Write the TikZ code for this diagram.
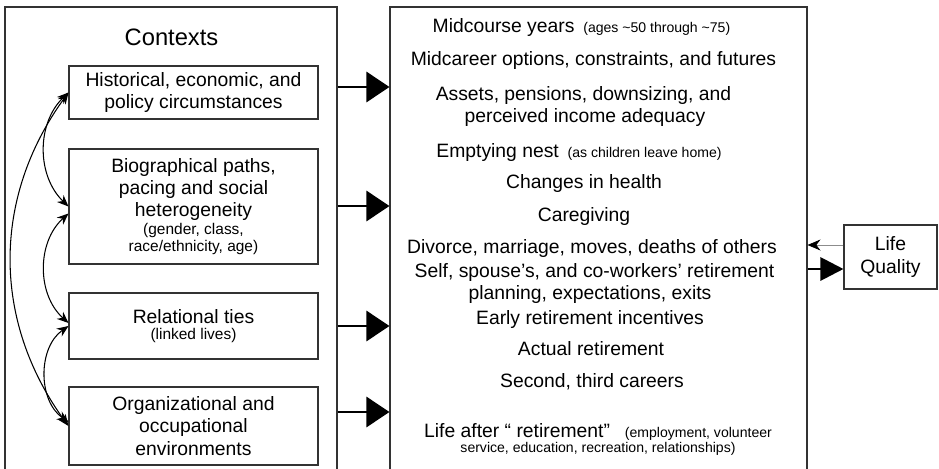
\documentclass[tikz,border=0pt]{standalone}
\usepackage{fontspec}
\setmainfont{Liberation Sans}
\usetikzlibrary{arrows.meta,positioning}

\newcommand{\bigtxt}{\fontsize{11}{12.6}\selectfont}
\newcommand{\notetxt}{\fontsize{8.8}{10}\selectfont}
\newcommand{\smalltxt}{\fontsize{8}{9.5}\selectfont}

\begin{document}
\begin{tikzpicture}[x=0.2mm,y=-0.2mm,
  frame/.style={draw=black!80,line width=0.6pt,inner sep=0pt},
  ctxbox/.style={frame,minimum width=49.8mm,align=center,font=\bigtxt},
  item/.style={anchor=base,inner sep=0pt,font=\bigtxt},
  link/.style={line width=0.6pt,{Stealth[length=2.3mm,width=1.9mm]}-{Stealth[length=2.3mm,width=1.9mm]}},
  fat/.style={line width=1.7pt,-{Triangle[length=4.6mm,width=6mm]}}]
\useasboundingbox (0,0) rectangle (939,468);

\node[frame,minimum width=66.4mm,minimum height=94.4mm] (ctx) at (171,243) {};
\node[frame,minimum width=83.4mm,minimum height=94.4mm] (mid) at (598.5,243) {};
\node[frame,minimum width=18.6mm,minimum height=12.8mm,align=center,font=\bigtxt] (lq) at (890.5,257) {Life\\Quality};

\node[anchor=base,font=\fontsize{13.5}{15}\selectfont] (ctxhead) at (171.5,45) {Contexts};
\node[ctxbox,minimum height=10.6mm] (hist) at (193.5,92.5) {Historical, economic, and\\policy circumstances};
\node[ctxbox,minimum height=23mm] (bio) at (193.5,206.5) {Biographical paths,\\pacing and social\\heterogeneity\\[-2.6pt]{\notetxt(gender, class,}\\[-2.6pt]{\notetxt race/ethnicity, age)}};
\node[ctxbox,minimum height=13.2mm] (rel) at (193.5,326) {Relational ties\\[-3.2pt]{\notetxt(linked lives)}};
\node[ctxbox,minimum height=15.6mm] (org) at (193.5,426) {Organizational and\\occupational\\environments};

\node[item] (yrs) at (581.5,32) {Midcourse years\hspace{5pt}{\smalltxt(ages \textasciitilde50 through \textasciitilde75)}};
\node[item] (opts) at (593.5,65) {Midcareer options, constraints, and futures};
\node[item] (assets) at (583.5,100) {Assets, pensions, downsizing, and};
\node[item] (assets2) at (585,122) {perceived income adequacy};
\node[item] (nest) at (579,157) {Emptying nest\hspace{5pt}{\smalltxt(as children leave home)}};
\node[item] (health) at (584,188) {Changes in health};
\node[item] (care) at (584,221) {Caregiving};
\node[item] (divorce) at (592,253) {Divorce, marriage, moves, deaths of others};
\node[item] (plans) at (594.5,277) {Self, spouse’s, and co-workers’ retirement};
\node[item] (plans2) at (590,299) {planning, expectations, exits};
\node[item] (early) at (590,324) {Early retirement incentives};
\node[item] (actual) at (591,355) {Actual retirement};
\node[item] (careers) at (592,387) {Second, third careers};
\node[item] (after) at (598,437) {Life after “ retirement”\hspace{8.5pt}{\smalltxt(employment, volunteer}};
\node[item,font=\smalltxt] (after2) at (598,452) {service, education, recreation, relationships)};

\foreach \y in {87,206,326,412} \draw[fat] (ctx.east |- 0,\y) -- (mid.west |- 0,\y);

\draw[draw=black!45,line width=0.4pt,-{Stealth[length=2.6mm,width=2.2mm,black]}] (lq.west |- 0,245) -- (mid.east |- 0,245);
\draw[line width=1.7pt,-{Triangle[length=4.6mm,width=4.6mm]}] (mid.east |- 0,269) -- (lq.west |- 0,269);

\draw[link] (hist.west) to[bend right=46] (bio.west);
\draw[link] (hist.west) to[bend right=36] (org.west);
\draw[link] ([yshift=-1.4mm]bio.west) to[bend right=48] ([yshift=0.6mm]rel.west);
\draw[link] (rel.west) to[bend right=55] ([yshift=0.8mm]org.west);
\end{tikzpicture}
\end{document}
